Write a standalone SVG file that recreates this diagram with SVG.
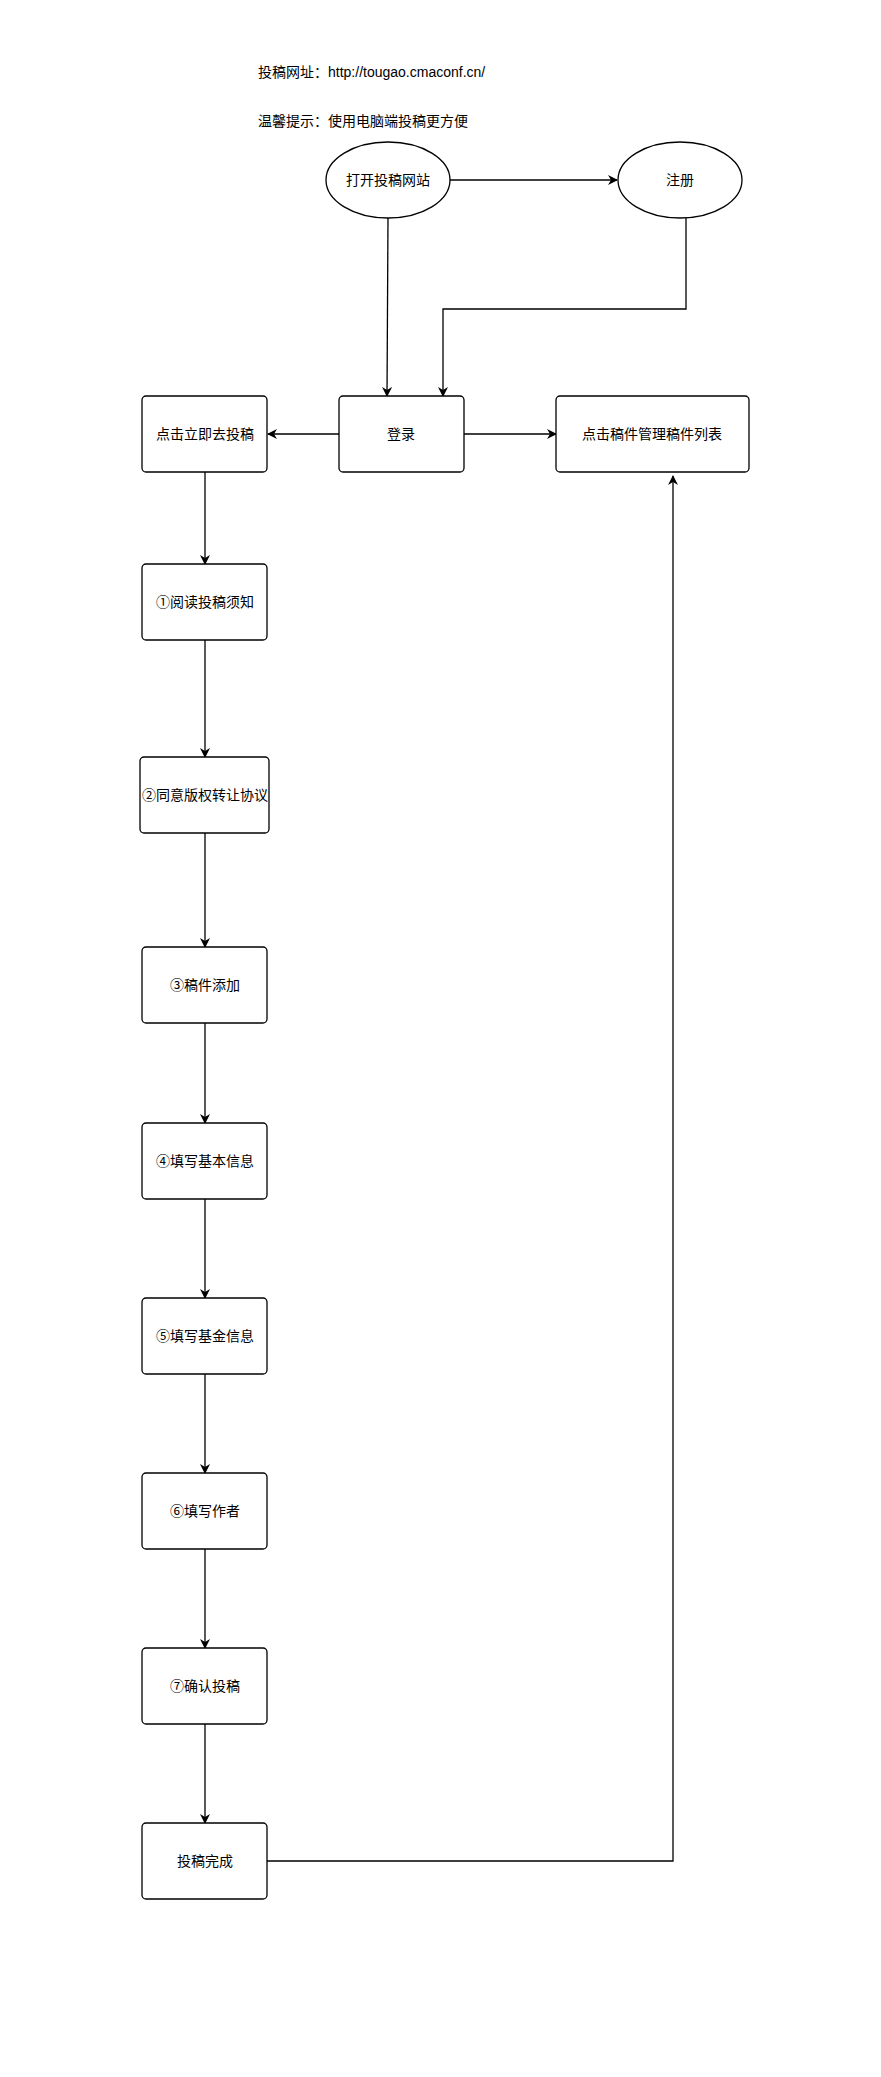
<svg xmlns="http://www.w3.org/2000/svg" width="881" height="2077" viewBox="0 0 881 2077">
<defs>
<style>
.n{fill:#fff;stroke:#000;stroke-width:1.3}
text{font-family:"Liberation Sans","Noto Sans CJK SC",sans-serif;font-size:14px;fill:#000}
.c{text-anchor:middle;dominant-baseline:central}
.e{fill:none;stroke:#000;stroke-width:1.3}
</style>
<marker id="a" viewBox="0 0 10 10" refX="9" refY="5" markerWidth="10" markerHeight="10" markerUnits="userSpaceOnUse" orient="auto"><path d="M0,0 L10,5 L0,10 L3,5 Z" fill="#000"/></marker>
</defs>
<rect width="881" height="2077" fill="#fff"/>
<text x="258" y="77">投稿网址：http://tougao.cmaconf.cn/</text>
<text x="258" y="126">温馨提示：使用电脑端投稿更方便</text>
<g id="connectors">
<path class="e" d="M450,180 L617,180" marker-end="url(#a)"/>
<path class="e" d="M388,218 L387,396" marker-end="url(#a)"/>
<path class="e" d="M686,218 L686,309 L443,309 L443,396" marker-end="url(#a)"/>
<path class="e" d="M339,434 L268,434" marker-end="url(#a)"/>
<path class="e" d="M464,434 L556,434" marker-end="url(#a)"/>
<path class="e" d="M205,472 L205,564" marker-end="url(#a)"/>
<path class="e" d="M205,640 L205,757" marker-end="url(#a)"/>
<path class="e" d="M205,833 L205,947" marker-end="url(#a)"/>
<path class="e" d="M205,1023 L205,1123" marker-end="url(#a)"/>
<path class="e" d="M205,1199 L205,1298" marker-end="url(#a)"/>
<path class="e" d="M205,1374 L205,1473" marker-end="url(#a)"/>
<path class="e" d="M205,1549 L205,1648" marker-end="url(#a)"/>
<path class="e" d="M205,1724 L205,1823" marker-end="url(#a)"/>
<path class="e" d="M267,1861 L673,1861 L673,476" marker-end="url(#a)"/>
</g>
<g id="open"><ellipse class="n" cx="388" cy="180" rx="62" ry="38"/><text class="c" x="388" y="180">打开投稿网站</text></g>
<g id="register"><ellipse class="n" cx="680" cy="180" rx="62" ry="38"/><text class="c" x="680" y="180">注册</text></g>
<g id="login"><rect class="n" x="339" y="396" width="125" height="76" rx="4"/><text class="c" x="401" y="434">登录</text></g>
<g id="submitnow"><rect class="n" x="142" y="396" width="125" height="76" rx="4"/><text class="c" x="205" y="434">点击立即去投稿</text></g>
<g id="manage"><rect class="n" x="556" y="396" width="193" height="76" rx="4"/><text class="c" x="652" y="434">点击稿件管理稿件列表</text></g>
<g id="s1"><rect class="n" x="142" y="564" width="125" height="76" rx="4"/><text class="c" x="205" y="602">①阅读投稿须知</text></g>
<g id="s2"><rect class="n" x="140" y="757" width="129" height="76" rx="4"/><text class="c" x="205" y="795">②同意版权转让协议</text></g>
<g id="s3"><rect class="n" x="142" y="947" width="125" height="76" rx="4"/><text class="c" x="205" y="985">③稿件添加</text></g>
<g id="s4"><rect class="n" x="142" y="1123" width="125" height="76" rx="4"/><text class="c" x="205" y="1161">④填写基本信息</text></g>
<g id="s5"><rect class="n" x="142" y="1298" width="125" height="76" rx="4"/><text class="c" x="205" y="1336">⑤填写基金信息</text></g>
<g id="s6"><rect class="n" x="142" y="1473" width="125" height="76" rx="4"/><text class="c" x="205" y="1511">⑥填写作者</text></g>
<g id="s7"><rect class="n" x="142" y="1648" width="125" height="76" rx="4"/><text class="c" x="205" y="1686">⑦确认投稿</text></g>
<g id="done"><rect class="n" x="142" y="1823" width="125" height="76" rx="4"/><text class="c" x="205" y="1861">投稿完成</text></g>
</svg>
